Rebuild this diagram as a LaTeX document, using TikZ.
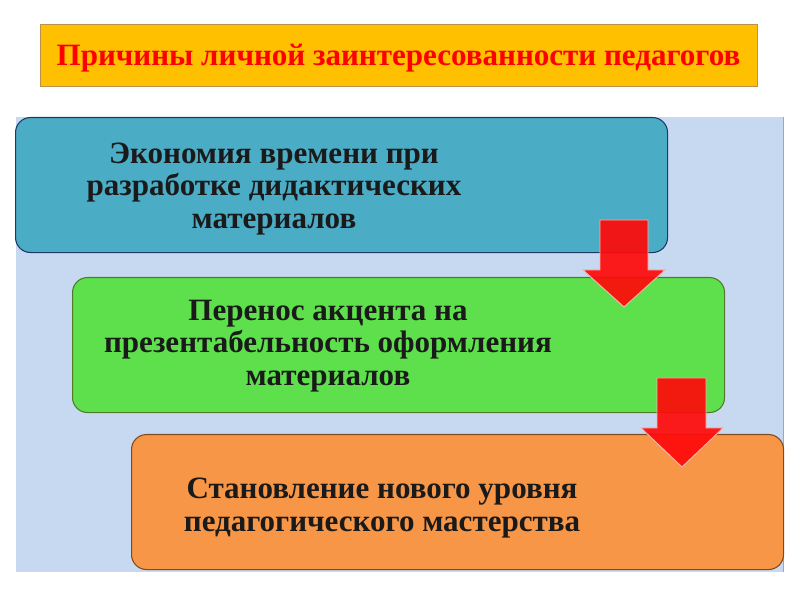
\documentclass[tikz,border=0pt]{standalone}
\usepackage{fontspec}
\setmainfont{Liberation Serif}
\usepackage{tikz}
\usetikzlibrary{positioning,calc}
\definecolor{gold}{HTML}{FFC000}
\definecolor{goldline}{HTML}{C0904A}
\definecolor{titlered}{HTML}{FF0000}
\definecolor{panel}{HTML}{C6D9F1}
\definecolor{panelline}{HTML}{A6A6A6}
\definecolor{teal}{HTML}{4BACC6}
\definecolor{tealline}{HTML}{1F3864}
\definecolor{lime}{HTML}{5DE04B}
\definecolor{limeline}{HTML}{4F7A28}
\definecolor{peach}{HTML}{F79646}
\definecolor{peachline}{HTML}{7F4A1E}
\definecolor{ink}{HTML}{1A1A1A}
\definecolor{arrowred}{HTML}{FF0A0A}
\definecolor{arrowrim}{HTML}{F4B6AE}
\tikzset{
  banner/.style={draw=goldline,fill=gold,minimum width=21.51cm,minimum height=1.86cm,
    font=\fontsize{26.5}{30}\selectfont\bfseries,text=titlered,inner sep=0pt,text depth=0pt},
  stepbox/.style={draw=#1line,fill=#1,rounded corners=4.5mm,line width=0.9pt,
    minimum width=19.56cm,minimum height=4.05cm,anchor=north west,inner sep=0pt},
  boxtext/.style={font=\fontsize{26.5}{28}\selectfont\bfseries,text=ink,align=center},
  downarrow/.style={fill=arrowred,fill opacity=0.92,draw=arrowrim,line width=0.8pt,line join=miter},
}
\begin{document}
\begin{tikzpicture}[x=0.03cm,y=-0.03cm]
  \useasboundingbox (0,0) rectangle (800,600);
  \node[banner] (title) at (398.5,55) {Причины личной заинтересованности педагогов};
  % panel behind the steps
  \fill[panel] (16,117) rectangle (783,572);
  \draw[panelline] (783,117) -- (783,572);
  \node[stepbox=teal] (s1) at (15,117) {};
  \node[stepbox=lime] (s2) at (72,277) {};
  \node[stepbox=peach] (s3) at (131,434) {};
  \node[boxtext] (t1) at (274,189) {Экономия времени при\\разработке дидактических\\материалов};
  \node[boxtext] (t2) at (328,346) {Перенос акцента на\\презентабельность оформления\\материалов};
  \node[boxtext] (t3) at (382,508) {Становление нового уровня\\педагогического мастерства};
  % arrows between steps
  \coordinate (a1) at (624,307);
  \coordinate (a2) at (682,467);
  \draw[downarrow] (a1) -- ++(-41,-37) -- ++(17,0) -- ++(0,-50) -- ++(48,0) -- ++(0,50) -- ++(17,0) -- cycle;
  \draw[downarrow] (a2) -- ++(-41,-39) -- ++(16,0) -- ++(0,-50) -- ++(49,0) -- ++(0,50) -- ++(17,0) -- cycle;
\end{tikzpicture}
\end{document}
